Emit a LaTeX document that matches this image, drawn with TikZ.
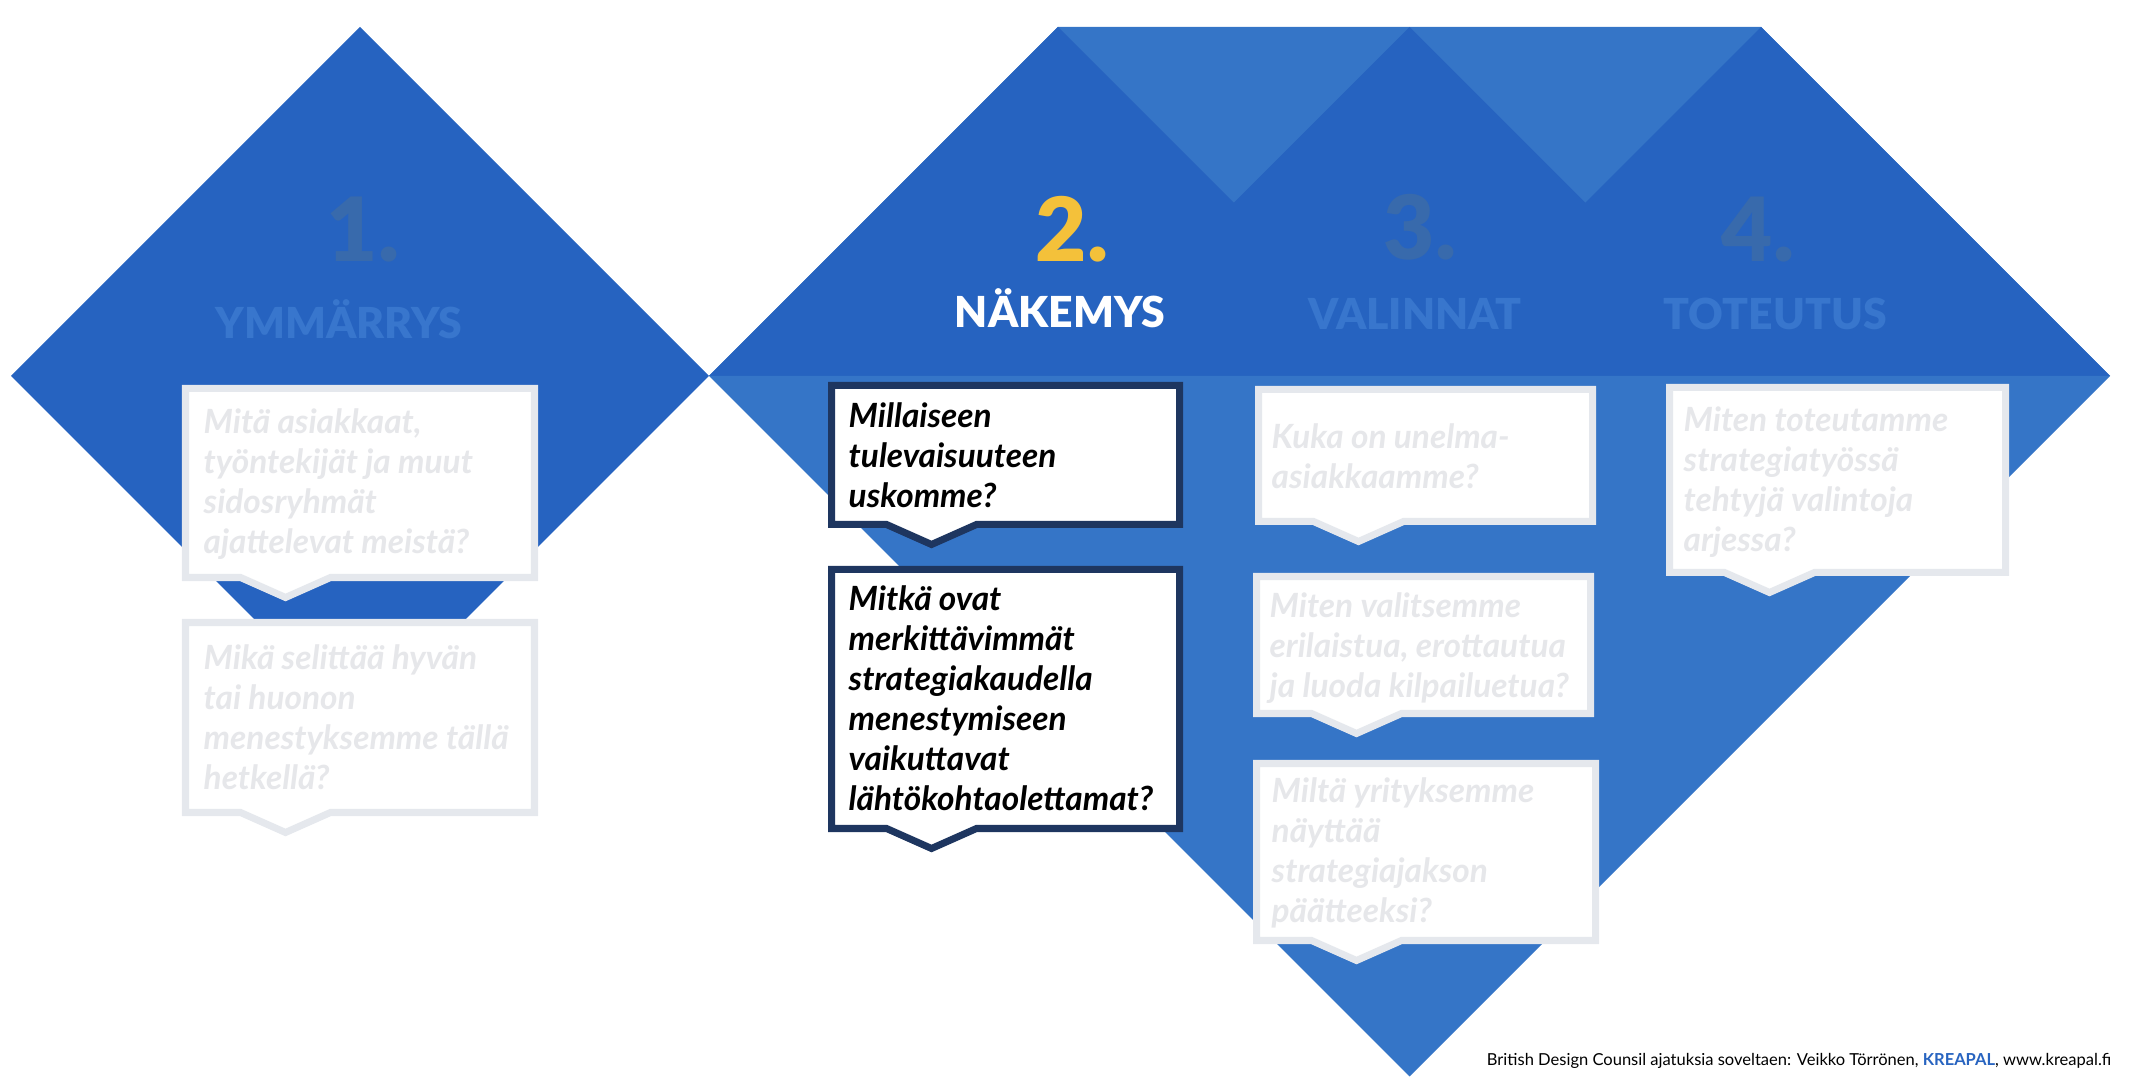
\documentclass[tikz,border=0pt]{standalone}
\usepackage{fontspec}
\setmainfont{Lato}
\newfontfamily\latoblack{Lato Black}

\definecolor{darkblue}{RGB}{38,99,192}
\definecolor{lightblue}{RGB}{53,117,199}
\definecolor{numblue}{RGB}{56,106,172}
\definecolor{titleblue}{RGB}{56,118,205}
\definecolor{gold}{RGB}{244,193,58}
\definecolor{navy}{RGB}{30,54,96}
\definecolor{bubblegray}{RGB}{229,232,237}
\definecolor{fainttext}{RGB}{230,231,234}
\definecolor{kreablue}{RGB}{40,100,192}

\tikzset{
  bubble/.style={fill=white, draw=bubblegray, line width=2pt, line join=miter},
  navybubble/.style={bubble, draw=navy},
  question/.style={anchor=north west, inner sep=0pt, align=left, text=fainttext,
    font=\bfseries\itshape\fontsize{9.5}{11.4}\selectfont, execute at begin node=\strut},
  activeq/.style={question, text=black},
  stepnum/.style={anchor=base, inner sep=0pt, text=numblue,
    font=\latoblack\fontsize{25.2}{26}\selectfont},
  steptitle/.style={anchor=base, inner sep=0pt, text=titleblue,
    font=\latoblack\fontsize{12.15}{13}\selectfont},
}

\begin{document}
\begin{tikzpicture}
    \useasboundingbox (0,0) rectangle (21.4,10.92);

    % Vaihe 1
    \fill[darkblue] (0.11,7.16) -- (3.60,10.65) -- (7.09,7.16) -- (3.60,3.67) -- cycle;

    % Vaiheet 2-4
    \fill[lightblue] (7.09,7.16) -- (10.58,10.65) -- (17.61,10.65) -- (21.10,7.16) -- cycle;
    \foreach \c in {10.58,14.095,17.61}
        \fill[darkblue] (\c-3.49,7.16) -- (\c,10.65) -- (\c+3.49,7.16) -- cycle;
    \fill[lightblue] (7.09,7.16) -- (21.10,7.16) -- (14.095,0.155) -- cycle;

    % Puhekuplat
    \foreach \l/\t/\r/\b in {1.855/7.035/5.345/5.145, 1.855/4.695/5.345/2.795,
        12.585/7.025/15.925/5.705, 12.565/5.155/15.905/3.785,
        12.565/3.285/15.955/1.515, 16.695/7.045/20.055/5.195}
        \draw[bubble] (\l,\t) -- (\r,\t) -- (\r,\b) -- (\l+1.45,\b) -- (\l+1.0,\b-0.2)
            -- (\l+0.55,\b) -- (\l,\b) -- cycle;
    \foreach \t/\b in {7.065/5.675, 5.225/2.635}
        \draw[navybubble] (8.315,\t) -- (11.795,\t) -- (11.795,\b) -- (9.765,\b)
            -- (9.315,\b-0.2) -- (8.865,\b) -- (8.315,\b) -- cycle;

    % Otsikot
    \node[stepnum] (n1) at (3.63,8.30) {1.};
    \node[steptitle] (t1) at (3.39,7.53) {YMMÄRRYS};
    \node[stepnum, text=gold] (n2) at (10.72,8.30) {2.};
    \node[steptitle, text=white] (t2) at (10.60,7.64) {NÄKEMYS};
    \node[stepnum] (n3) at (14.20,8.32) {3.};
    \node[steptitle] (t3) at (14.15,7.62) {VALINNAT};
    \node[stepnum] (n4) at (17.58,8.30) {4.};
    \node[steptitle] (t4) at (17.75,7.62) {TOTEUTUS};

    % Kysymykset
    \node[question] (q1) at (2.03,6.84) {Mitä asiakkaat,\\työntekijät ja muut\\sidosryhmät\\ajattelevat meistä?};
    \node[question] (q2) at (2.03,4.48) {Mikä selittää hyvän\\tai huonon\\menestyksemme tällä\\hetkellä?};
    \node[activeq] (q3) at (8.48,6.90) {Millaiseen\\tulevaisuuteen\\uskomme?};
    \node[activeq] (q4) at (8.48,5.07) {Mitkä ovat\\merkittävimmät\\strategiakaudella\\menestymiseen\\vaikuttavat\\lähtökohtaolettamat?};
    \node[question] (q5) at (12.71,6.69) {Kuka on unelma-\\asiakkaamme?};
    \node[question] (q6) at (12.69,5.00) {Miten valitsemme\\erilaistua, erottautua\\ja luoda kilpailuetua?};
    \node[question] (q7) at (12.71,3.15) {Miltä yrityksemme\\näyttää\\strategiajakson\\päätteeksi?};
    \node[question] (q8) at (16.83,6.86) {Miten toteutamme\\strategiatyössä\\tehtyjä valintoja\\arjessa?};

    \node[anchor=base east, inner sep=0pt, font=\fontsize{4.7}{6}\selectfont] (credit) at (21.12,0.26)
        {British Design Counsil ajatuksia soveltaen: Veikko Törrönen, \textcolor{kreablue}{\textbf{KREAPAL}}, www.kreapal.fi};
\end{tikzpicture}
\end{document}
